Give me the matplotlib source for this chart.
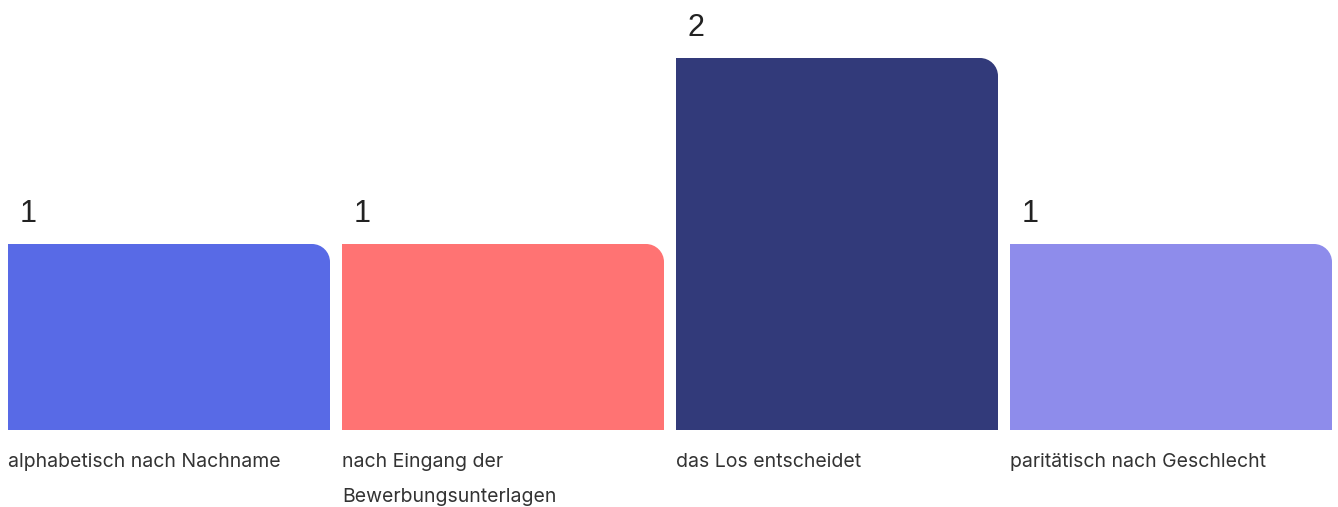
import matplotlib.pyplot as plt
from matplotlib.path import Path
from matplotlib.patches import PathPatch

# Data
categories = ["alphabetisch nach Nachname",
              "nach Eingang der\nBewerbungsunterlagen",
              "das Los entscheidet",
              "paritätisch nach Geschlecht"]
values = [1, 1, 2, 1]
colors = ["#586AE6", "#FF7373", "#323A7A", "#8E8CEB"]

W, H = 1338, 507
fig = plt.figure(figsize=(W / 100, H / 100), dpi=100)
ax = fig.add_axes([8 / W, 77 / H, 1324 / W, 372 / H])

width = 322 / 334
x = list(range(len(values)))
bars = ax.bar(x, values, width=width, color=colors)
ax.set_xlim(-width / 2, len(values) - 1 + width / 2)
ax.set_ylim(0, 2)
ax.axis("off")

# rounded top-right corner, radius in pixels converted to data units
r = 18
xr = ax.get_xlim()[1] - ax.get_xlim()[0]
rx = r * xr / 1324
ry = r * 2 / 372
k = 0.5523

for b, v, lab in zip(bars, values, categories):
    x0, y0 = b.get_x(), b.get_y()
    x1, y1 = x0 + b.get_width(), y0 + b.get_height()
    b.set_visible(False)
    verts = [(x0, y0), (x1, y0), (x1, y1 - ry),
             (x1, y1 - ry + k * ry), (x1 - rx + k * rx, y1), (x1 - rx, y1),
             (x0, y1), (x0, y0)]
    codes = [Path.MOVETO, Path.LINETO, Path.LINETO,
             Path.CURVE4, Path.CURVE4, Path.CURVE4,
             Path.LINETO, Path.CLOSEPOLY]
    ax.add_patch(PathPatch(Path(verts, codes), facecolor=b.get_facecolor(),
                           edgecolor="none"))

    ax.annotate(str(v), xy=(x0, y1), xytext=(12, 22), textcoords="offset pixels",
                ha="left", va="baseline", fontsize=22, color="#222222",
                family="Liberation Sans", annotation_clip=False)
    ax.annotate(lab, xy=(x0, 0), xytext=(0, -23), textcoords="offset pixels",
                ha="left", va="top", fontsize=14, color="#333333",
                family="Inter", linespacing=2.25, annotation_clip=False)

fig.savefig("out.png", dpi=100)
